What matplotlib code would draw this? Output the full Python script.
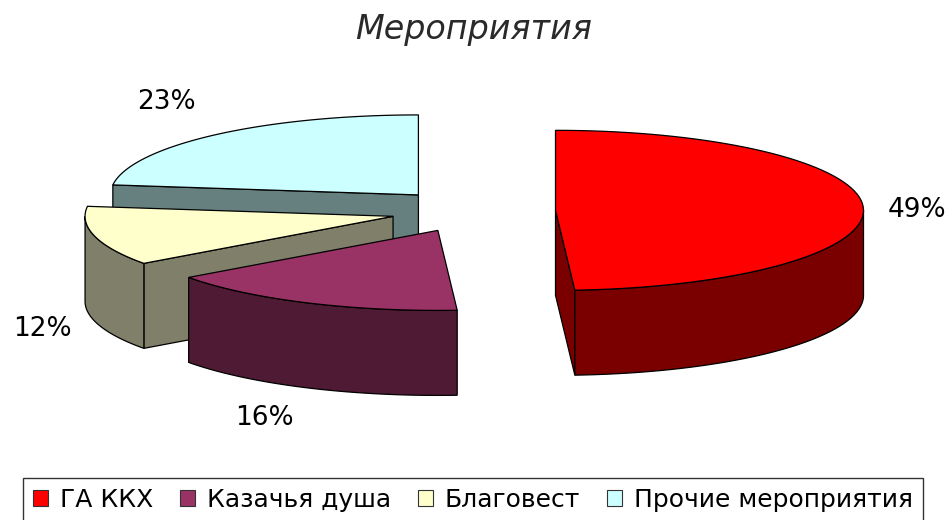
import numpy as np
import matplotlib
matplotlib.use('Agg')
from matplotlib import pyplot as plt
from matplotlib.patches import Polygon, Patch

# data
labels = ['ГА ККХ', 'Казачья душа', 'Благовест', 'Прочие мероприятия']
values = [49, 16, 12, 23]
title = 'Мероприятия'

top_colors = ['#ff0000', '#993366', '#ffffcc', '#ccffff']
side_colors = ['#7a0000', '#4f1a33', '#80806a', '#668080']

# layout (pixels of the 952x520 canvas)
cx, cy = 473, 211
A, B = 308, 80          # ellipse half axes of the top face
H = 85                  # thickness of the pie
explode = 0.268
label_xy = [(917, 210), (264, 418), (42, 329), (166, 102)]

fig = plt.figure(figsize=(9.52, 5.2), dpi=100)
ax = fig.add_axes([0, 0, 1, 1])
ax.set_xlim(0, 952)
ax.set_ylim(520, 0)
ax.axis('off')


def pt(c, t, r=1.0, z=0.0):
    return (c[0] + r * A * np.cos(t), c[1] - r * B * np.sin(t) + z)


def arc(c, t0, t1, z=0.0, n=80):
    ts = np.linspace(t0, t1, n)
    return [pt(c, t, 1.0, z) for t in ts]


# wedges clockwise from 12 o'clock
wedges = []
start = 90.0
for i, v in enumerate(values):
    span = 360.0 * v / sum(values)
    hi = start
    lo = start - span
    wedges.append((i, np.radians(lo), np.radians(hi)))
    start = lo

# paint back to front
order = sorted(wedges, key=lambda w: -np.sin((w[1] + w[2]) / 2))
lw = 0.9
for i, lo, hi in order:
    mid = (lo + hi) / 2
    c = (cx + explode * A * np.cos(mid), cy - explode * B * np.sin(mid))
    side = side_colors[i]
    # radial faces
    if np.cos(lo) > 0:
        q = [c, pt(c, lo), pt(c, lo, 1, H), (c[0], c[1] + H)]
        ax.add_patch(Polygon(q, closed=True, fc=side, ec='black', lw=lw))
    if np.cos(hi) < 0:
        q = [c, pt(c, hi), pt(c, hi, 1, H), (c[0], c[1] + H)]
        ax.add_patch(Polygon(q, closed=True, fc=side, ec='black', lw=lw))
    # outer wall, front part only
    for k in (-1, 0, 1):
        a0 = max(lo, np.radians(-180 + 360 * k))
        a1 = min(hi, np.radians(360 * k))
        if a1 > a0:
            wall = arc(c, a0, a1) + arc(c, a1, a0, H)
            ax.add_patch(Polygon(wall, closed=True, fc=side, ec='black', lw=lw))
    # top face
    top = [c] + arc(c, lo, hi)
    ax.add_patch(Polygon(top, closed=True, fc=top_colors[i], ec='black', lw=lw))

for (x, y), v in zip(label_xy, values):
    ax.text(x, y, '%d%%' % v, ha='center', va='center', fontsize=19, color='black')

ax.text(474, 30, title, ha='center', va='center', fontsize=24, style='italic', color='#2a2a2a')

handles = [Patch(fc=col, ec='#333333', lw=0.8) for col in top_colors]
leg = fig.legend(handles, labels, loc='upper center', bbox_to_anchor=(473 / 952, 42 / 520),
                 ncol=4, fontsize=18, frameon=True, fancybox=False, edgecolor='black',
                 handlelength=0.6, handleheight=0.6, handletextpad=0.45, columnspacing=1.1,
                 borderpad=0.4, borderaxespad=0)
leg.get_frame().set_linewidth(1.0)

plt.savefig('out.png', dpi=100)
